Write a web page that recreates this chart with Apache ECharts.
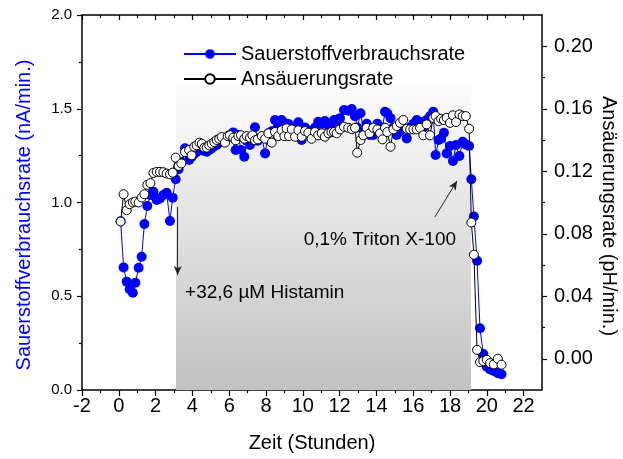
<!DOCTYPE html>
<html>
<head>
<meta charset="utf-8">
<script src="https://cdn.jsdelivr.net/npm/echarts@6/dist/echarts.min.js"></script>
<style>
  html, body { margin: 0; padding: 0; background: #fff; }
  #chart { width: 623px; height: 459px; }
</style>
</head>
<body>
<div id="chart"></div>
<script>
// Measurement times (hours)
const timeHours = [
  0.10, 0.26, 0.43, 0.59, 0.76, 0.90, 1.08, 1.24, 1.39, 1.55,
  1.72, 1.88, 2.06, 2.24, 2.42, 2.60, 2.78, 2.93, 3.09, 3.25,
  3.40, 3.60, 3.82, 3.96, 4.10, 4.23, 4.38, 4.51, 4.65, 4.78,
  4.92, 5.05, 5.19, 5.32, 5.46, 5.59, 5.77, 5.92, 6.04, 6.22,
  6.35, 6.50, 6.64, 6.82, 6.95, 7.13, 7.26, 7.40, 7.55, 7.77,
  7.95, 8.13, 8.31, 8.49, 8.67, 8.85, 9.00, 9.12, 9.25, 9.40,
  9.58, 9.76, 9.94, 10.12, 10.30, 10.48, 10.66, 10.84, 11.03, 11.20,
  11.39, 11.56, 11.70, 11.84, 12.02, 12.24, 12.47, 12.66, 12.84, 12.96,
  13.14, 13.29, 13.47, 13.63, 13.83, 14.05, 14.20, 14.33, 14.47, 14.59,
  14.77, 14.92, 15.10, 15.28, 15.46, 15.65, 15.83, 16.01, 16.19, 16.37,
  16.55, 16.73, 16.91, 17.09, 17.22, 17.38, 17.52, 17.67, 17.82, 18.00,
  18.16, 18.33, 18.51, 18.69, 18.86, 19.04, 19.16, 19.30, 19.47, 19.63,
  19.81, 20.00, 20.18, 20.38, 20.60, 20.80
];

// Oxygen consumption rate (nA/min.)
const oxygenRate = [
  0.900, 0.654, 0.578, 0.537, 0.519, 0.572, 0.652, 0.711, 0.885, 0.981,
  1.040, 1.058, 1.013, 1.022, 1.040, 1.052, 0.901, 1.026, 1.124, 1.177,
  1.215, 1.289, 1.227, 1.244, 1.260, 1.270, 1.280, 1.289, 1.275, 1.271,
  1.280, 1.289, 1.300, 1.307, 1.320, 1.333, 1.340, 1.350, 1.360, 1.374,
  1.280, 1.360, 1.280, 1.244, 1.330, 1.307, 1.350, 1.401, 1.330, 1.350,
  1.262, 1.369, 1.380, 1.440, 1.400, 1.440, 1.390, 1.420, 1.417, 1.400,
  1.380, 1.428, 1.333, 1.400, 1.380, 1.360, 1.400, 1.431, 1.420, 1.435,
  1.410, 1.420, 1.440, 1.430, 1.450, 1.493, 1.490, 1.499, 1.460, 1.400,
  1.476, 1.387, 1.420, 1.360, 1.360, 1.420, 1.380, 1.400, 1.484, 1.476,
  1.450, 1.400, 1.360, 1.380, 1.400, 1.342, 1.400, 1.420, 1.440, 1.430,
  1.400, 1.440, 1.460, 1.484, 1.253, 1.333, 1.342, 1.372, 1.262, 1.301,
  1.221, 1.307, 1.248, 1.324, 1.310, 1.301, 1.124, 0.925, 0.690, 0.329,
  0.192, 0.124, 0.110, 0.101, 0.090, 0.084
];

// Acidification rate (pH/min.)
const acidRate = [
  0.0878, 0.1053, 0.0951, 0.0989, 0.1000, 0.1006, 0.1000, 0.1032, 0.1053, 0.1113,
  0.1124, 0.1189, 0.1196, 0.1196, 0.1194, 0.1185, 0.1181, 0.1191, 0.1287, 0.1234,
  0.1250, 0.1323, 0.1336, 0.1302, 0.1357, 0.1366, 0.1383, 0.1376, 0.1351, 0.1351,
  0.1366, 0.1376, 0.1387, 0.1400, 0.1408, 0.1419, 0.1383, 0.1425, 0.1430, 0.1415,
  0.1398, 0.1425, 0.1430, 0.1408, 0.1425, 0.1415, 0.1430, 0.1398, 0.1404, 0.1425,
  0.1408, 0.1443, 0.1383, 0.1451, 0.1425, 0.1462, 0.1425, 0.1475, 0.1425, 0.1468,
  0.1421, 0.1462, 0.1421, 0.1457, 0.1447, 0.1408, 0.1451, 0.1430, 0.1443, 0.1421,
  0.1443, 0.1451, 0.1451, 0.1443, 0.1468, 0.1485, 0.1478, 0.1470, 0.1478, 0.1319,
  0.1400, 0.1430, 0.1478, 0.1443, 0.1478, 0.1468, 0.1443, 0.1404, 0.1478, 0.1451,
  0.1357, 0.1468, 0.1489, 0.1510, 0.1528, 0.1472, 0.1468, 0.1468, 0.1468, 0.1478,
  0.1430, 0.1500, 0.1430, 0.1542, 0.1553, 0.1521, 0.1536, 0.1528, 0.1542, 0.1510,
  0.1558, 0.1515, 0.1564, 0.1553, 0.1553, 0.1472, 0.0872, 0.0666, 0.0057, -0.0022,
  -0.0015, -0.0006, -0.0028, -0.0036, 0.0000, -0.0038
];

// Tick positions
const xMajorTicks = [-2, 0, 2, 4, 6, 8, 10, 12, 14, 16, 18, 20, 22];
const xMinorTicks = [-1, 1, 3, 5, 7, 9, 11, 13, 15, 17, 19, 21];
const rightMajorTicks = [0, 0.04, 0.08, 0.12, 0.16, 0.20];
const rightMinorTicks = [0.02, 0.06, 0.10, 0.14, 0.18];

// Treatment window (hours) and annotations
const treatmentStart = 3.11;
const treatmentEnd = 19.14;
const treatmentTop = 1.627;
const histaminArrow = [[3.2, 0.976], [3.2, 0.613]];
const tritonArrow = [[17.18, 0.923], [18.38, 1.115]];
const histaminText = { at: [3.6, 0.517], text: '+32,6 µM Histamin' };
const tritonText = { at: [18.33, 0.80], text: '0,1% Triton X-100' };

const seriesNames = ['Sauerstoffverbrauchsrate', 'Ansäuerungsrate'];

const FONT = '"Liberation Sans", Arial, Helvetica, sans-serif';
const BLUE = '#0000ff';

const oxygenData = timeHours.map((t, i) => [t, oxygenRate[i]]);
const acidData = timeHours.map((t, i) => [t, acidRate[i]]);

const chart = echarts.init(document.getElementById('chart'), null, { renderer: 'canvas' });

const axisLineStyle = { color: '#000', width: 1.5 };
const tickLineStyle = { color: '#000', width: 1.2 };

function xAxisBase(extra) {
  return Object.assign({
    type: 'value', min: -2, max: 23, gridIndex: 0,
    splitLine: { show: false },
    axisLabel: { show: false },
    axisLine: { show: false, onZero: false, lineStyle: axisLineStyle }
  }, extra);
}

chart.setOption({
  animation: false,
  backgroundColor: '#fff',
  textStyle: { fontFamily: FONT },
  grid: { left: 82, right: 81, top: 15, bottom: 69, containLabel: false },
  legend: {
    data: seriesNames,
    orient: 'vertical',
    left: 178, top: 39,
    itemWidth: 52, itemHeight: 12, itemGap: 5,
    textStyle: { fontSize: 20, color: '#000', fontFamily: FONT },
    selectedMode: false
  },
  xAxis: [
    xAxisBase({
      position: 'bottom',
      axisLine: { show: true, onZero: false, lineStyle: axisLineStyle },
      axisTick: { show: true, customValues: xMajorTicks, length: 6, lineStyle: tickLineStyle },
      axisLabel: { show: true, customValues: xMajorTicks, fontSize: 20, margin: 6, color: '#000', fontFamily: FONT }
    }),
    xAxisBase({
      position: 'bottom',
      axisTick: { show: true, customValues: xMinorTicks, length: 3, lineStyle: tickLineStyle }
    }),
    xAxisBase({
      position: 'top',
      axisLine: { show: true, onZero: false, lineStyle: axisLineStyle },
      axisTick: { show: true, inside: true, customValues: xMajorTicks, length: 5, lineStyle: tickLineStyle }
    }),
    xAxisBase({
      position: 'top',
      axisTick: { show: true, inside: true, customValues: xMinorTicks, length: 3, lineStyle: tickLineStyle }
    })
  ],
  yAxis: [
    {
      type: 'value', min: 0, max: 2, interval: 0.5, position: 'left',
      splitLine: { show: false },
      axisLine: { show: true, onZero: false, lineStyle: axisLineStyle },
      axisTick: { show: true, length: 5, lineStyle: tickLineStyle },
      minorTick: { show: true, splitNumber: 2, length: 3, lineStyle: tickLineStyle },
      axisLabel: { fontSize: 15, margin: 10, color: '#000', fontFamily: FONT,
        formatter: v => v.toFixed(1) }
    },
    {
      type: 'value', min: -0.02, max: 0.22, position: 'right',
      splitLine: { show: false },
      axisLine: { show: true, onZero: false, lineStyle: axisLineStyle },
      axisTick: { show: true, customValues: rightMajorTicks, length: 5, lineStyle: tickLineStyle },
      axisLabel: { customValues: rightMajorTicks, fontSize: 20, margin: 12, color: '#000', fontFamily: FONT,
        formatter: v => v.toFixed(2) }
    },
    {
      type: 'value', min: -0.02, max: 0.22, position: 'right',
      splitLine: { show: false },
      axisLine: { show: false, onZero: false },
      axisTick: { show: true, customValues: rightMinorTicks, length: 3, lineStyle: tickLineStyle },
      axisLabel: { show: false }
    }
  ],
  graphic: [
    {
      type: 'text', x: 24, y: 215, rotation: Math.PI / 2,
      style: { text: 'Sauerstoffverbrauchsrate (nA/min.)', fill: BLUE, font: '20px ' + FONT,
        textAlign: 'center', textVerticalAlign: 'middle' }
    },
    {
      type: 'text', x: 609, y: 216, rotation: -Math.PI / 2,
      style: { text: 'Ansäuerungsrate (pH/min.)', fill: '#000', font: '20px ' + FONT,
        textAlign: 'center', textVerticalAlign: 'middle' }
    },
    {
      type: 'text', x: 312, y: 443,
      style: { text: 'Zeit (Stunden)', fill: '#000', font: '20px ' + FONT,
        textAlign: 'center', textVerticalAlign: 'middle' }
    }
  ],
  series: [
    {
      // shaded treatment period
      name: 'treatment', type: 'line', data: [], xAxisIndex: 0, yAxisIndex: 0, z: 1,
      silent: true,
      markArea: {
        silent: true,
        itemStyle: {
          color: new echarts.graphic.LinearGradient(0, 0, 0, 1, [
            { offset: 0, color: '#fdfdfd' },
            { offset: 1, color: '#c2c2c2' }
          ])
        },
        data: [[{ coord: [treatmentStart, treatmentTop] }, { coord: [treatmentEnd, 0] }]]
      }
    },
    {
      name: seriesNames[0], type: 'line', data: oxygenData,
      xAxisIndex: 0, yAxisIndex: 0, z: 3,
      symbol: 'circle', symbolSize: 10, showSymbol: true, showAllSymbol: true,
      itemStyle: { color: BLUE },
      lineStyle: { color: BLUE, width: 1 }
    },
    {
      name: seriesNames[1], type: 'line', data: acidData,
      xAxisIndex: 0, yAxisIndex: 1, z: 4,
      symbol: 'circle', symbolSize: 9, showSymbol: true, showAllSymbol: true,
      itemStyle: { color: '#fff', borderColor: '#000', borderWidth: 1 },
      lineStyle: { color: '#000', width: 1 }
    },
    {
      // annotation arrows and labels
      name: 'notes', type: 'line', data: [], xAxisIndex: 0, yAxisIndex: 0, z: 5,
      silent: true,
      markLine: {
        silent: true,
        symbol: ['none', 'arrow'],
        symbolSize: [6, 9],
        lineStyle: { color: '#222', width: 1, type: 'solid' },
        label: { show: false },
        data: [
          [{ coord: histaminArrow[0] }, { coord: histaminArrow[1] }],
          [{ coord: tritonArrow[0] }, { coord: tritonArrow[1] }]
        ]
      },
      markPoint: {
        silent: true,
        symbol: 'circle', symbolSize: 0,
        data: [
          { coord: histaminText.at, value: 0,
            label: { show: true, position: 'right', distance: 0, formatter: histaminText.text,
              fontSize: 19, color: '#000', fontFamily: FONT } },
          { coord: tritonText.at, value: 0,
            label: { show: true, position: 'left', distance: 0, formatter: tritonText.text,
              fontSize: 19, color: '#000', fontFamily: FONT } }
        ]
      }
    }
  ]
});
</script>
</body>
</html>
